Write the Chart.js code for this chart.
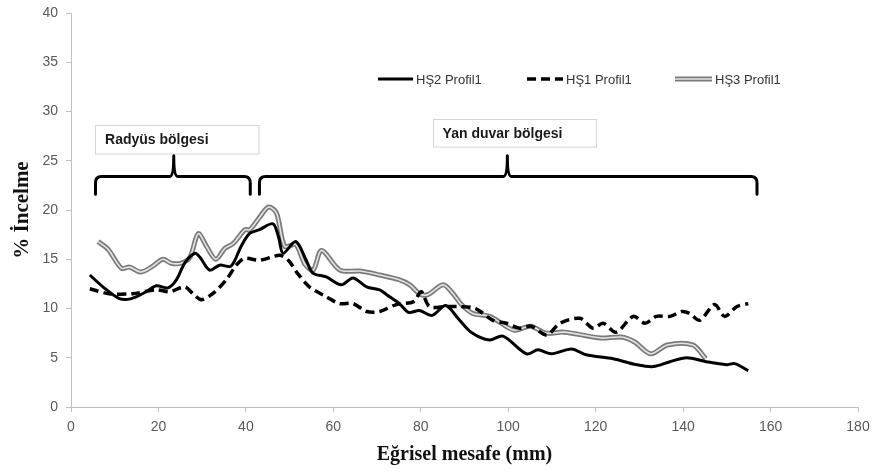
<!DOCTYPE html>
<html>
<head>
<meta charset="utf-8">
<title>% İncelme - Eğrisel mesafe</title>
<script src="https://cdn.jsdelivr.net/npm/chart.js"></script>
<style>
  html, body { margin: 0; padding: 0; background: #fff; }
  #wrap { width: 872px; height: 473px; }
</style>
</head>
<body>
<div id="wrap"><canvas id="incelmeChart" width="872" height="473"></canvas></div>
<script>
// series (x = Eğrisel mesafe mm, y = % İncelme)
const seriesLabels = ['HŞ2 Profil1', 'HŞ1 Profil1', 'HŞ3 Profil1'];

const hs2X = [4.3, 7.3, 11.1, 13.8, 17.2, 19.5, 22.2, 24.1, 26.0, 28.3, 29.5, 31.7, 34.0, 36.6, 38.9, 40.8, 43.1, 46.2, 47.5, 48.5,
  51.4, 53.8, 55.3, 58.4, 61.8, 64.5, 67.6, 70.6, 72.2, 75.1, 77.2, 79.7, 82.6, 85.7, 88.7, 91.5, 95.7, 98.8, 104.2, 106.8,
  109.9, 114.5, 117.8, 124.0, 129.3, 133.2, 137.0, 140.8, 145.3, 149.9, 151.8, 154.9];
const hs2Y = [13.4, 12.2, 11.0, 11.0, 11.7, 12.3, 12.1, 12.9, 14.6, 15.6, 15.2, 13.9, 14.4, 14.3, 16.3, 17.6, 18.0, 18.6, 17.2, 15.6,
  16.8, 14.9, 13.6, 13.2, 12.4, 13.1, 12.2, 11.9, 11.4, 10.5, 9.6, 9.8, 9.3, 10.3, 8.9, 7.6, 6.8, 7.2, 5.4, 5.8,
  5.4, 5.9, 5.3, 4.9, 4.3, 4.1, 4.6, 5.0, 4.6, 4.3, 4.4, 3.7];

const hs1X = [4.3, 8.8, 14.1, 19.5, 22.6, 26.0, 27.9, 29.8, 32.4, 35.5, 37.8, 39.7, 43.1, 47.7, 49.7, 51.6, 54.5, 58.4, 61.4, 64.5,
  67.6, 70.6, 74.4, 78.4, 80.1, 82.0, 85.9, 88.9, 92.5, 96.5, 99.6, 102.6, 105.3, 108.8, 111.8, 116.4, 119.4, 121.7, 124.7, 128.6,
  131.3, 133.9, 137.0, 139.7, 141.5, 143.8, 147.2, 149.5, 152.3, 154.9];
const hs1Y = [12.0, 11.5, 11.5, 11.9, 11.7, 12.2, 11.5, 10.9, 11.5, 12.9, 14.4, 15.1, 14.9, 15.4, 14.9, 13.7, 12.2, 11.2, 10.5, 10.5,
  9.7, 9.7, 10.4, 10.7, 11.7, 10.2, 10.2, 10.2, 10.0, 8.8, 8.5, 8.0, 8.2, 7.3, 8.5, 9.0, 8.0, 8.5, 7.6, 9.2,
  8.5, 9.2, 9.2, 9.7, 9.5, 8.8, 10.4, 9.2, 10.2, 10.5];

const hs3X = [6.2, 8.5, 11.5, 13.4, 16.0, 18.7, 21.0, 22.9, 25.2, 27.2, 29.1, 31.0, 33.1, 35.2, 37.1, 39.8, 40.9, 43.2, 45.2, 47.0,
  48.9, 51.4, 53.5, 55.4, 57.3, 61.5, 66.1, 70.6, 75.2, 77.5, 79.7, 81.6, 85.1, 87.4, 89.3, 91.9, 95.8, 101.3, 105.1, 108.6,
  112.8, 121.2, 125.8, 128.9, 132.6, 136.4, 142.2, 145.2];
const hs3Y = [16.8, 16.0, 14.1, 14.2, 13.7, 14.3, 15.0, 14.6, 14.6, 15.2, 17.6, 16.3, 15.0, 16.1, 16.6, 18.0, 18.0, 19.3, 20.3, 19.7,
  16.3, 16.5, 14.5, 13.9, 15.9, 13.9, 13.8, 13.4, 12.9, 12.4, 11.5, 11.4, 12.4, 11.5, 10.4, 9.5, 9.2, 7.8, 8.2, 7.5,
  7.6, 7.0, 7.1, 6.6, 5.4, 6.3, 6.3, 4.9];

const xTickValues = [0, 20, 40, 60, 80, 100, 120, 140, 160, 180];
const yTickValues = [0, 5, 10, 15, 20, 25, 30, 35, 40];

const regionLabels = ['Radyüs bölgesi', 'Yan duvar bölgesi'];
const regionSpans = [[5.6, 41.0], [43.1, 156.9]];   // mm, brace ends
const regionMids = [23.5, 99.8];

function pair(xs, ys) {
  return xs.map((x, i) => ({ x: x, y: ys[i] }));
}

const tickFont = { family: "'Liberation Sans', Arial, sans-serif", size: 14 };
const tickColor = '#595959';
const axisColor = '#bfbfbf';

// region boxes/braces, custom legend, and the light core of the double line
const decorPlugin = {
  id: 'decor',
  afterDatasetDraw(chart, args) {
    if (args.index !== 2) return;
    const pts = args.meta.data;
    const a = chart.chartArea;
    const ctx = chart.ctx;
    ctx.save();
    ctx.beginPath();
    ctx.rect(a.left, a.top, a.right - a.left, a.bottom - a.top);
    ctx.clip();
    ctx.beginPath();
    ctx.moveTo(pts[0].x, pts[0].y);
    for (let i = 1; i < pts.length; i++) {
      const p = pts[i - 1], c = pts[i];
      ctx.bezierCurveTo(p.cp2x, p.cp2y, c.cp1x, c.cp1y, c.x, c.y);
    }
    ctx.strokeStyle = '#e4e4e4';
    ctx.lineWidth = 1.6;
    ctx.lineJoin = 'round';
    ctx.stroke();
    ctx.restore();
  },
  afterDraw(chart) {
    const ctx = chart.ctx;
    const xs = chart.scales.x, ys = chart.scales.y;
    ctx.save();

    // text boxes
    const boxes = [
      { x1: 5.5, x2: 42.9, y1: 28.6, y2: 25.7 },
      { x1: 82.7, x2: 120.0, y1: 29.2, y2: 26.4 }
    ];
    ctx.font = "bold 14px 'Liberation Sans', Arial, sans-serif";
    ctx.textBaseline = 'middle';
    ctx.textAlign = 'left';
    boxes.forEach((b, i) => {
      const l = xs.getPixelForValue(b.x1), r = xs.getPixelForValue(b.x2);
      const t = ys.getPixelForValue(b.y1), btm = ys.getPixelForValue(b.y2);
      ctx.fillStyle = '#fff';
      ctx.fillRect(l, t, r - l, btm - t);
      ctx.strokeStyle = '#d4d4d4';
      ctx.lineWidth = 1;
      ctx.strokeRect(Math.round(l) + 0.5, Math.round(t) + 0.5, r - l, btm - t);
      ctx.fillStyle = '#1a1a1a';
      ctx.fillText(regionLabels[i], l + 10, (t + btm) / 2 + 1);
    });

    // curly braces
    ctx.strokeStyle = '#000';
    ctx.lineWidth = 3;
    ctx.lineJoin = 'round';
    ctx.lineCap = 'round';
    const yH = ys.getPixelForValue(23.4);
    const yEnd = ys.getPixelForValue(21.6);
    const yTip = ys.getPixelForValue(25.5);
    regionSpans.forEach((s, i) => {
      const x1 = xs.getPixelForValue(s[0]), x2 = xs.getPixelForValue(s[1]);
      const xm = xs.getPixelForValue(regionMids[i]);
      const r = 6;
      ctx.beginPath();
      ctx.moveTo(x1, yEnd);
      ctx.lineTo(x1, yH + r);
      ctx.quadraticCurveTo(x1, yH, x1 + r, yH);
      ctx.lineTo(xm - 4, yH);
      ctx.quadraticCurveTo(xm, yH, xm, yTip);
      ctx.quadraticCurveTo(xm, yH, xm + 4, yH);
      ctx.lineTo(x2 - r, yH);
      ctx.quadraticCurveTo(x2, yH, x2, yH + r);
      ctx.lineTo(x2, yEnd);
      ctx.stroke();
    });

    // legend
    const legendY = 79;
    const items = [{ x1: 378, x2: 413 }, { x1: 527, x2: 563 }, { x1: 675, x2: 712 }];
    ctx.lineCap = 'butt';
    ctx.font = "13px 'Liberation Sans', Arial, sans-serif";
    items.forEach((it, i) => {
      const ds = chart.data.datasets[i];
      ctx.beginPath();
      ctx.moveTo(it.x1, legendY);
      ctx.lineTo(it.x2, legendY);
      ctx.strokeStyle = ds.borderColor;
      ctx.lineWidth = ds.borderWidth;
      ctx.setLineDash(ds.borderDash || []);
      ctx.stroke();
      ctx.setLineDash([]);
      if (i === 2) {
        ctx.strokeStyle = '#e4e4e4';
        ctx.lineWidth = 1.6;
        ctx.stroke();
      }
      ctx.fillStyle = '#333';
      ctx.fillText(ds.label, it.x2 + 3, legendY + 1);
    });
    ctx.restore();
  }
};

new Chart(document.getElementById('incelmeChart'), {
  type: 'line',
  data: {
    datasets: [
      {
        label: seriesLabels[0], data: pair(hs2X, hs2Y),
        borderColor: '#000', borderWidth: 3, pointRadius: 0, tension: 0.3, fill: false
      },
      {
        label: seriesLabels[1], data: pair(hs1X, hs1Y),
        borderColor: '#000', borderWidth: 3.5, borderDash: [9, 5], pointRadius: 0, tension: 0.3, fill: false
      },
      {
        label: seriesLabels[2], data: pair(hs3X, hs3Y),
        borderColor: '#7a7a7a', borderWidth: 5, pointRadius: 0, tension: 0.3, fill: false
      }
    ]
  },
  options: {
    responsive: false,
    animation: false,
    devicePixelRatio: 1,
    layout: { padding: { top: 13, right: 14, left: 0, bottom: 0 } },
    plugins: { legend: { display: false }, tooltip: { enabled: false } },
    scales: {
      x: {
        type: 'linear', min: 0, max: 180,
        afterBuildTicks: s => { s.ticks = xTickValues.map(v => ({ value: v })); },
        afterFit: s => { s.height = 66; s.paddingLeft = 0; s.paddingRight = 0; },
        grid: { display: true, drawOnChartArea: false, drawTicks: true, tickLength: 5, color: axisColor },
        border: { display: true, color: axisColor, width: 1 },
        ticks: { font: tickFont, color: tickColor, padding: 7, maxRotation: 0 },
        title: {
          display: true, text: 'Eğrisel mesafe (mm)', color: '#111',
          font: { family: "'Liberation Serif', 'Times New Roman', serif", size: 20, weight: 'bold' },
          padding: { top: 0, bottom: 6 }
        }
      },
      y: {
        type: 'linear', min: 0, max: 40,
        afterBuildTicks: s => { s.ticks = yTickValues.map(v => ({ value: v })); },
        afterFit: s => { s.width = 71; s.paddingTop = 0; s.paddingBottom = 0; },
        grid: { display: true, drawOnChartArea: false, drawTicks: true, tickLength: 5, color: axisColor },
        border: { display: true, color: axisColor, width: 1 },
        ticks: { font: tickFont, color: tickColor, padding: 8 },
        title: {
          display: true, text: '% İncelme', color: '#111',
          font: { family: "'Liberation Serif', 'Times New Roman', serif", size: 21, weight: 'bold' },
          padding: { top: 10, bottom: 0 }
        }
      }
    }
  },
  plugins: [decorPlugin]
});
</script>
</body>
</html>
